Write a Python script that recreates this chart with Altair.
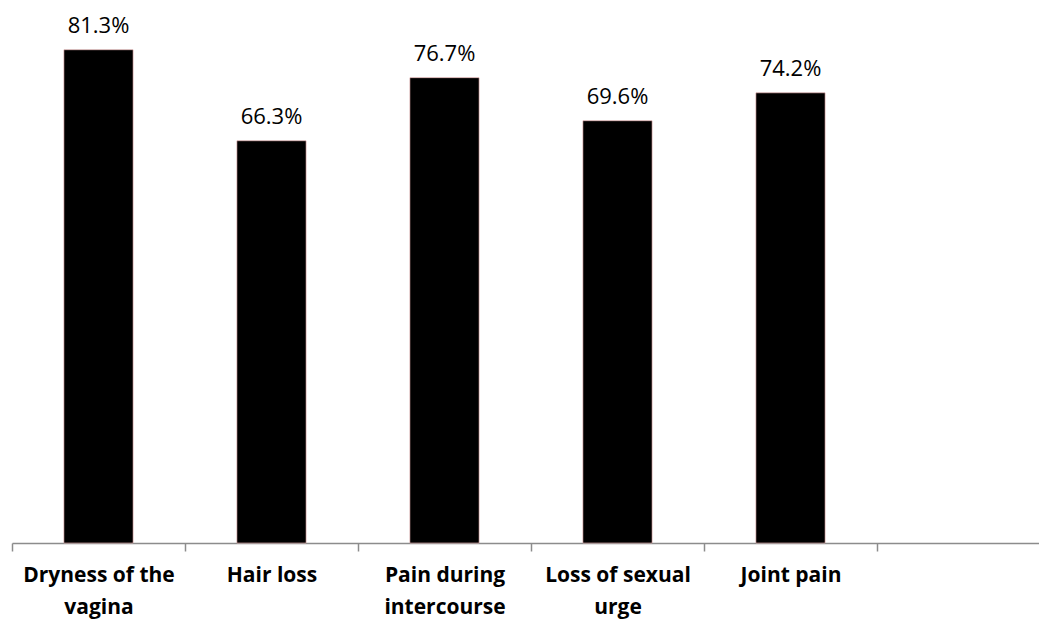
import altair as alt
import pandas as pd

categories = ["Dryness of the\nvagina", "Hair loss", "Pain during\nintercourse",
              "Loss of sexual\nurge", "Joint pain"]
values = [81.3, 66.3, 76.7, 69.6, 74.2]
value_labels = ["81.3%", "66.3%", "76.7%", "69.6%", "74.2%"]
domain_slots = categories + [" "]

df = pd.DataFrame({"cat": categories, "val": values, "lab": value_labels})

x = alt.X("cat:N", sort=domain_slots,
          scale=alt.Scale(domain=domain_slots, range=[0, 1038],
                          paddingInner=0, paddingOuter=0),
          axis=alt.Axis(title=None, labelAngle=0, labelExpr="split(datum.label, '\\n')",
                        labelFont="Open Sans", labelFontSize=21, labelFontWeight="bold",
                        labelColor="black", labelLineHeight=32, labelPadding=13,
                        tickSize=8, tickColor="#8c8c8c", domainColor="#8c8c8c",
                        domainWidth=1.5, tickWidth=1.5, tickBand="extent",
                        labelBound=False, labelOverlap=False))
y = alt.Y("val:Q", scale=alt.Scale(domain=[0, 89.5], nice=False, zero=True), axis=None)

bars = alt.Chart(df).mark_bar(
    width=alt.RelativeBandSize(0.4), color="black",
    stroke="#f4b8b8", strokeWidth=1, strokeOpacity=0.6,
).encode(x=x, y=y)
text = alt.Chart(df).mark_text(font="Open Sans", fontSize=22, color="black",
                               baseline="alphabetic", dy=-17).encode(x=x, y=y, text="lab:N")

chart = (bars + text).properties(
    width=1027, height=543,
    autosize=alt.AutoSizeParams(type="none"),
    padding={"left": 12, "top": 0, "right": 0, "bottom": 77},
).configure_view(stroke=None)

chart.save("out.html", embed_options={"renderer": "svg", "actions": False})
